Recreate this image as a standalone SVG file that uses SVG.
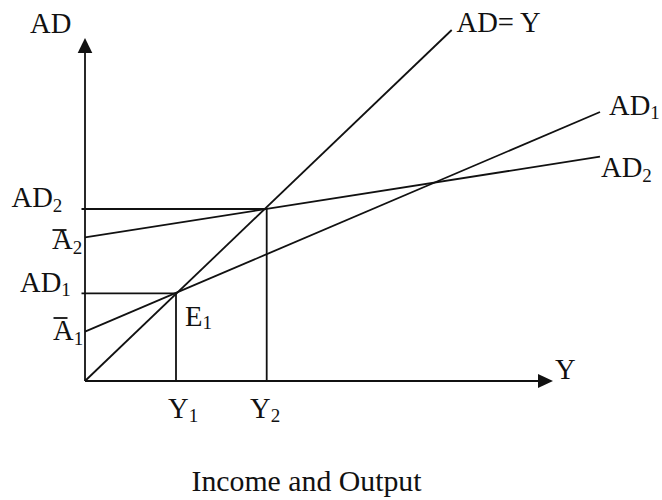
<svg xmlns="http://www.w3.org/2000/svg" width="662" height="500" viewBox="0 0 662 500">
  <style>
    .ln { stroke: #111111; stroke-width: 1.8; fill: none; }
    .lbl { font-family: "Liberation Serif", "Times New Roman", serif; font-size: 28.6px; fill: #111111; }
    .sub { font-size: 19px; }
    .title { font-size: 29.8px; }
    .arrow { fill: #111111; }
  </style>
  <rect width="662" height="500" fill="#ffffff"/>
  <g id="connectors">
    <line class="ln" x1="85" y1="381" x2="85" y2="50"/>
    <polygon class="arrow" points="85,38 77.7,53 92.3,53"/>
    <line class="ln" x1="85" y1="381" x2="541" y2="381"/>
    <polygon class="arrow" points="553,381 538,374 538,388"/>
    <line class="ln" x1="85" y1="381" x2="451.7" y2="30"/>
    <line class="ln" x1="85" y1="331.7" x2="600" y2="112"/>
    <line class="ln" x1="85" y1="237.3" x2="600" y2="156.7"/>
    <line class="ln" x1="81.5" y1="209" x2="266.7" y2="209"/>
    <line class="ln" x1="81.5" y1="293.3" x2="176" y2="293.3"/>
    <line class="ln" x1="176" y1="293.3" x2="176" y2="381"/>
    <line class="ln" x1="266.7" y1="209" x2="266.7" y2="381"/>
  </g>
  <g id="label-AD-axis"><text class="lbl" x="30" y="33">AD</text></g>
  <g id="label-ADeqY"><text class="lbl" x="456.5" y="32">AD= Y</text></g>
  <g id="label-AD1-right"><text class="lbl" x="609" y="115">AD<tspan class="sub" dy="4">1</tspan></text></g>
  <g id="label-AD2-right"><text class="lbl" x="601" y="177">AD<tspan class="sub" dy="5">2</tspan></text></g>
  <g id="label-AD2-left"><text class="lbl" x="11.5" y="207">AD<tspan class="sub" dy="5">2</tspan></text></g>
  <g id="label-A2bar">
    <text class="lbl" x="52" y="248.5">A<tspan class="sub" dy="5.5">2</tspan></text>
    <line class="ln" x1="52.5" y1="230" x2="66.5" y2="230" stroke-width="1.6"/>
  </g>
  <g id="label-AD1-left"><text class="lbl" x="20" y="291.5">AD<tspan class="sub" dy="4">1</tspan></text></g>
  <g id="label-A1bar">
    <text class="lbl" x="53" y="339.5">A<tspan class="sub" dy="5.5">1</tspan></text>
    <line class="ln" x1="53.5" y1="318" x2="67.5" y2="318" stroke-width="1.6"/>
  </g>
  <g id="label-E1"><text class="lbl" x="185" y="326">E<tspan class="sub" dy="2.5">1</tspan></text></g>
  <g id="label-Y-axis"><text class="lbl" x="555" y="379">Y</text></g>
  <g id="label-Y1"><text class="lbl" x="168" y="418">Y<tspan class="sub" dy="4">1</tspan></text></g>
  <g id="label-Y2"><text class="lbl" x="250" y="418">Y<tspan class="sub" dy="4">2</tspan></text></g>
  <g id="label-title"><text class="lbl title" x="191.5" y="490.5">Income and Output</text></g>
</svg>
